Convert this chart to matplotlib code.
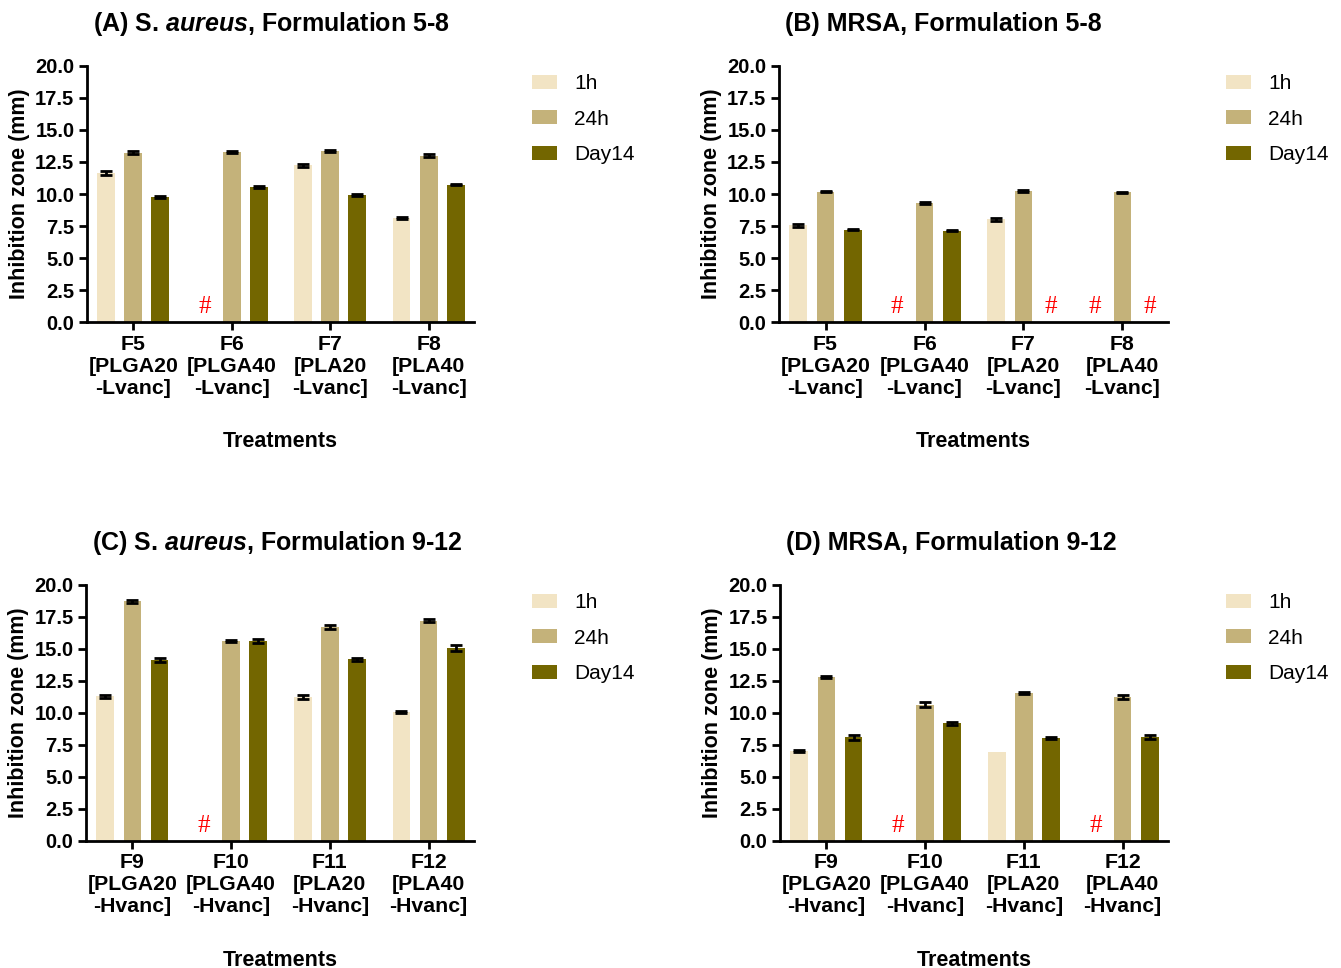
import numpy as np
import matplotlib.pyplot as plt
from matplotlib.patches import Patch

plt.rcParams['font.family'] = ['Liberation Sans', 'DejaVu Sans']
plt.rcParams['mathtext.fontset'] = 'custom'
plt.rcParams['mathtext.bfit'] = 'Liberation Sans:italic:bold'

nan = np.nan
series = ['1h', '24h', 'Day14']
colors = ['#F2E4C4', '#C4B27A', '#736600']

# formulation labels
labels_top = ['F5\n[PLGA20\n-Lvanc]', 'F6\n[PLGA40\n-Lvanc]', 'F7\n[PLA20\n-Lvanc]', 'F8\n[PLA40\n-Lvanc]']
labels_bot = ['F9\n[PLGA20\n-Hvanc]', 'F10\n[PLGA40\n-Hvanc]', 'F11\n[PLA20\n-Hvanc]', 'F12\n[PLA40\n-Hvanc]']

# mean inhibition zone (mm), rows = 1h, 24h, Day14; nan = no inhibition (#)
a_mean = [[11.65, nan, 12.24, 8.15],
          [13.23, 13.26, 13.33, 13.0],
          [9.78, 10.53, 9.91, 10.74]]
a_err = [[0.15, 0, 0.12, 0.08],
         [0.1, 0.08, 0.08, 0.12],
         [0.1, 0.08, 0.08, 0.06]]

b_mean = [[7.55, nan, 8.04, nan],
          [10.19, 9.29, 10.25, 10.12],
          [7.21, 7.13, nan, nan]]
b_err = [[0.12, 0, 0.12, 0],
         [0.07, 0.1, 0.08, 0.06],
         [0.06, 0.05, 0, 0]]

c_mean = [[11.29, nan, 11.24, 10.07],
          [18.73, 15.63, 16.72, 17.22],
          [14.15, 15.66, 14.2, 15.06]]
c_err = [[0.15, 0, 0.15, 0.08],
         [0.12, 0.08, 0.15, 0.12],
         [0.15, 0.16, 0.12, 0.22]]

d_mean = [[7.05, nan, 6.97, nan],
          [12.82, 10.66, 11.57, 11.26],
          [8.09, 9.18, 8.01, 8.11]]
d_err = [[0.08, 0, 0, 0],
         [0.08, 0.2, 0.1, 0.15],
         [0.18, 0.15, 0.08, 0.15]]

panels = [
    ('(A) S. $\\mathbfit{aureus}$, Formulation 5-8', labels_top, a_mean, a_err,
     [87, 322, 387]),
    ('(B) MRSA, Formulation 5-8', labels_top, b_mean, b_err, [779, 322, 389]),
    ('(C) S. $\\mathbfit{aureus}$, Formulation 9-12', labels_bot, c_mean, c_err,
     [86, 841, 388]),
    ('(D) MRSA, Formulation 9-12', labels_bot, d_mean, d_err, [780, 841, 388]),
]

W, H = 1341, 968
fig = plt.figure(figsize=(W / 100, H / 100), dpi=100)

offsets = [-0.275, 0.0, 0.275]
bw = 0.18
for title, xl, mean, err, (px, py, pw) in panels:
    ax = fig.add_axes([px / W, (H - py) / H, pw / W, 256 / H])
    x = np.arange(len(xl))
    for i in range(3):
        m = np.array(mean[i], dtype=float)
        e = np.array(err[i], dtype=float)
        ax.bar(x + offsets[i], m, bw, color=colors[i], zorder=2)
        ok = ~np.isnan(m) & (e > 0)
        ax.errorbar(x[ok] + offsets[i], m[ok], yerr=e[ok], fmt='none',
                    ecolor='black', elinewidth=2, capsize=4, capthick=2, zorder=3)
        for xi in x[np.isnan(m)]:
            ax.text(xi + offsets[i], 1.2, '#', color='red', fontsize=18,
                    family='Liberation Serif', ha='center', va='center')
    ax.set_ylim(0, 20)
    ax.set_xlim(-0.47, 3.46)
    ax.set_yticks(np.arange(0, 20.1, 2.5))
    ax.set_yticklabels([f'{v:.1f}' for v in np.arange(0, 20.1, 2.5)])
    ax.set_xticks(x)
    ax.set_xticklabels(xl, linespacing=1.2)
    for t in ax.get_xticklabels():
        t.set_fontweight('bold')
        t.set_fontsize(15.3)
    for t in ax.get_yticklabels():
        t.set_fontweight('bold')
        t.set_fontsize(14.5)
    ax.tick_params(width=2, length=6, pad=3)
    for s in ['top', 'right']:
        ax.spines[s].set_visible(False)
    for s in ['left', 'bottom']:
        ax.spines[s].set_linewidth(2)
    ax.set_ylabel('Inhibition zone (mm)', fontsize=15.5, fontweight='bold',
                  labelpad=4)
    ax.text(0.5, -0.465, 'Treatments', transform=ax.transAxes, ha='center',
            va='center', fontsize=15.5, fontweight='bold')
    ax.text(0.015, 1.165, title, transform=ax.transAxes, ha='left',
            va='center', fontsize=18, fontweight='bold')
    handles = [Patch(facecolor=c) for c in colors]
    ax.legend(handles, series, loc='upper left', bbox_to_anchor=(1.102, 1.042),
              frameon=False, fontsize=15, handlelength=1.2, handleheight=0.65,
              labelspacing=0.8, handletextpad=0.8)

fig.savefig('out.png', dpi=100)
